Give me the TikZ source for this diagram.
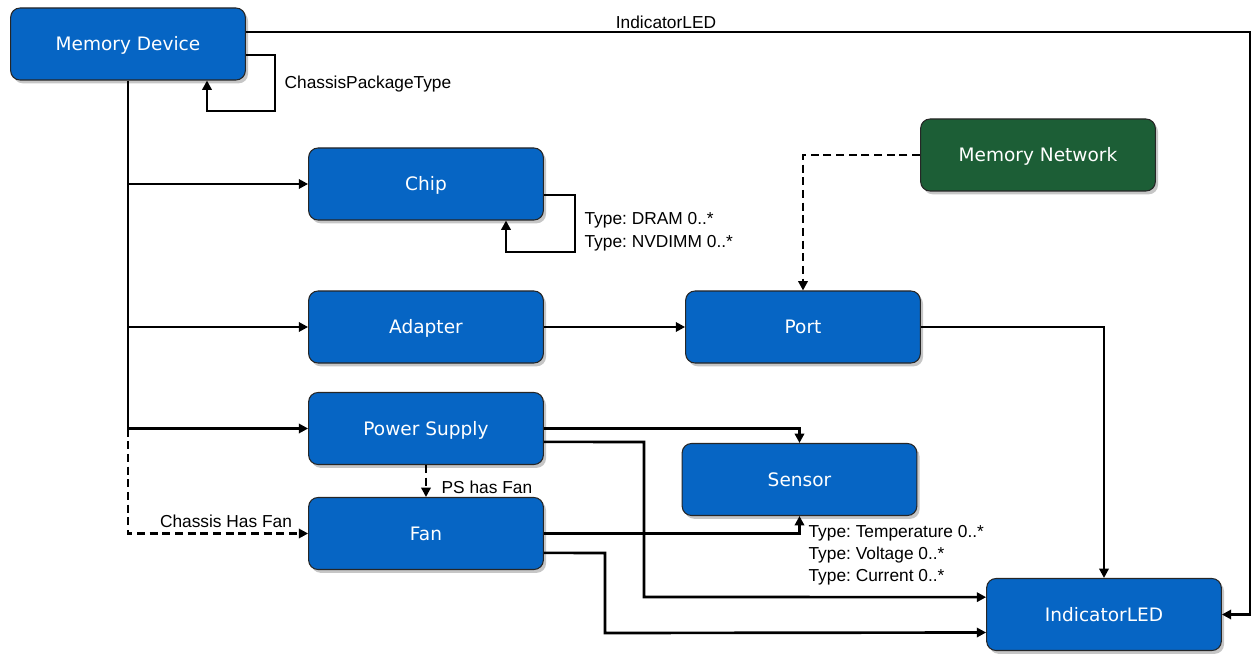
\documentclass[tikz,border=0pt]{standalone}
\usepackage{fontspec}
\setmainfont{Liberation Sans}
\newfontfamily\boxfont{DejaVu Sans}
\usetikzlibrary{arrows.meta,shadows}
\definecolor{boxblue}{RGB}{6,101,196}
\definecolor{boxgreen}{RGB}{28,94,54}
\frenchspacing
\begin{document}
\begin{tikzpicture}[x=0.75pt,y=-0.75pt,
  box/.style={draw=black!85, line width=0.8pt, fill=boxblue, rounded corners=7pt,
    minimum width=176pt, minimum height=54pt, text=white,
    text height=10.5pt, text depth=0pt,
    font=\boxfont\fontsize{13.9pt}{16pt}\selectfont,
    drop shadow={shadow xshift=2pt,shadow yshift=-2.5pt,opacity=0.45}},
  gbox/.style={box, fill=boxgreen},
  conn/.style={line width=2pt},
  arr/.style={conn, -{Triangle[length=7pt,width=7pt]}},
  dsh/.style={dash pattern=on 6pt off 3.5pt},
  lbl/.style={font=\fontsize{13pt}{16pt}\selectfont, inner sep=1pt},
]
\useasboundingbox (0,0) rectangle (1254,656);

% nodes
\node[box]  (md)      at (128,44)    {Memory Device};
\node[box]  (chip)    at (426,184)   {Chip};
\node[box]  (adapter) at (426,327)   {Adapter};
\node[box]  (ps)      at (426,428.5) {Power Supply};
\node[box]  (fan)     at (426,533.5) {Fan};
\node[box]  (port)    at (803,327)   {Port};
\node[gbox] (mn)      at (1038,155)  {Memory Network};
\node[box]  (sensor)  at (799.5,479.5) {Sensor};
\node[box]  (led)     at (1104,614.5) {IndicatorLED};

% Memory Device -> IndicatorLED
\draw[arr] ([yshift=9pt]md.east) -- (1250,32) -- (1250,614.5) -- (led.east);
\node[lbl] (l1) at (666,22) {IndicatorLED};

% Memory Device self loop
\draw[arr] ([yshift=-8.25pt]md.east) -- (275,55) -- (275,111) -- (207,111) -- ([xshift=59.25pt]md.south);
\node[lbl, anchor=west] (l2) at (283,84) {ChassisPackageType};

% trunk
\draw[conn] (md.south) -- (md.south |- ps.west);
\draw[arr] (md.south |- chip.west) -- (chip.west);
\draw[arr] (md.south |- adapter.west) -- (adapter.west);
\draw[arr] (md.south |- ps.west) -- (ps.west);
\draw[arr,dsh] (md.south |- ps.west) -- (md.south |- fan.west) -- (fan.west);
\node[lbl] (l3) at (226,521) {Chassis Has Fan};

% PS has Fan
\draw[arr,dsh] (ps.south) -- (fan.north);
\node[lbl, anchor=west] (l4) at (440,487) {PS has Fan};

% Chip self loop
\draw[arr] ([yshift=-8.25pt]chip.east) -- (575,195) -- (575,252) -- (506,252) -- ([xshift=60pt]chip.south);
\node[lbl, anchor=west, align=left] (l5) at (583,231.5) {Type: DRAM 0..*\\[1pt]Type: NVDIMM 0..*};

% Memory Network -> Port
\draw[arr,dsh] (mn.west) -| (port.north);

% Adapter -> Port
\draw[arr] (adapter.east) -- (port.west);

% Port -> IndicatorLED
\draw[arr] (port.east) -| (led.north);

% Power Supply -> Sensor / IndicatorLED
\draw[arr] (ps.east) -| (sensor.north);
\draw[arr] ([yshift=-10pt]ps.east) -- (644,442) -- (644,597) -- ([yshift=13pt]led.west);

% Fan -> Sensor / IndicatorLED
\draw[arr] (fan.east) -| (sensor.south);
\draw[arr] ([yshift=-14.5pt]fan.east) -- (605,553) -- (605,633) -- ([yshift=-13.5pt]led.west);

\node[lbl, anchor=north west, align=left] (l6) at (807,524) {Type: Temperature 0..*\\[0.5pt]Type: Voltage 0..*\\[0.5pt]Type: Current 0..*};
\end{tikzpicture}
\end{document}
